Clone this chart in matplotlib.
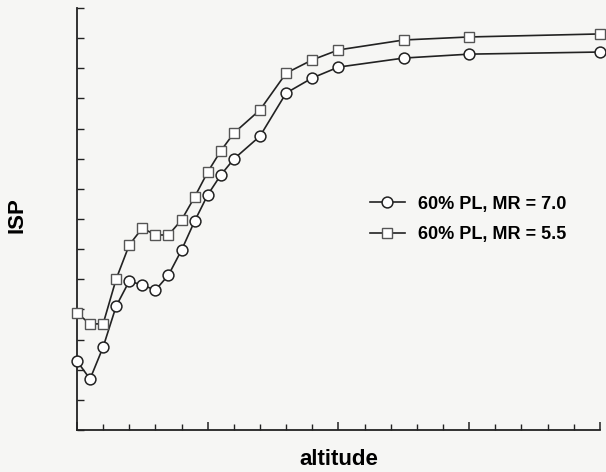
import matplotlib.pyplot as plt
from matplotlib.ticker import MultipleLocator, NullFormatter

plt.rcParams['font.family'] = ['Liberation Sans', 'DejaVu Sans']

altitude = [0, 0.5, 1, 1.5, 2, 2.5, 3, 3.5, 4, 4.5, 5, 5.5, 6, 7, 8, 9, 10, 12.5, 15, 20]
isp_mr70 = [2.29, 1.69, 2.75, 4.11, 4.94, 4.81, 4.64, 5.14, 5.97, 6.93,
            7.80, 8.46, 8.99, 9.75, 11.18, 11.68, 12.04, 12.34, 12.47, 12.54]
isp_mr55 = [3.88, 3.52, 3.52, 5.01, 6.14, 6.70, 6.47, 6.47, 6.97, 7.73,
            8.56, 9.26, 9.85, 10.62, 11.84, 12.28, 12.61, 12.94, 13.04, 13.14]
labels = ['60% PL, MR = 7.0', '60% PL, MR = 5.5']

bg = '#f6f6f4'
fig = plt.figure(figsize=(6.06, 4.72), dpi=100, facecolor=bg)
ax = fig.add_axes([0.127, 0.089, 0.863, 0.894], facecolor=bg)

ax.plot(altitude, isp_mr70, color='#222222', lw=1.2, marker='o', ms=7.8,
        mfc='white', mec='#222222', mew=1.1, label=labels[0], clip_on=False, zorder=3)
ax.plot(altitude, isp_mr55, color='#222222', lw=1.2, marker='s', ms=6.8,
        mfc='white', mec='#555555', mew=1.0, label=labels[1], clip_on=False, zorder=3)

ax.set_xlim(0, 20)
ax.set_ylim(0, 14)
for s in ['top', 'right']:
    ax.spines[s].set_visible(False)
for s in ['left', 'bottom']:
    ax.spines[s].set_linewidth(1.3)
    ax.spines[s].set_color('#222222')

ax.xaxis.set_major_locator(MultipleLocator(5))
ax.xaxis.set_minor_locator(MultipleLocator(1))
ax.yaxis.set_major_locator(MultipleLocator(1))
ax.xaxis.set_major_formatter(NullFormatter())
ax.yaxis.set_major_formatter(NullFormatter())
ax.tick_params(axis='x', which='major', direction='in', length=6, width=1.1, color='#222222')
ax.tick_params(axis='x', which='minor', direction='in', length=4, width=1.0, color='#222222')
ax.tick_params(axis='y', which='major', direction='in', length=5, width=1.0, color='#222222')

ax.set_xlabel('altitude', fontsize=16, fontweight='bold', labelpad=10)
ax.set_ylabel('ISP', fontsize=16, fontweight='bold', labelpad=28)
ax.yaxis.set_label_coords(-0.095, 0.51)

ax.legend(loc='upper left', bbox_to_anchor=(0.56, 0.555), frameon=False,
          borderpad=0, borderaxespad=0,
          prop={'size': 13, 'weight': 'bold'}, handlelength=1.95,
          handletextpad=0.7, labelspacing=0.75)

fig.savefig('out.png', dpi=100, facecolor=bg)
